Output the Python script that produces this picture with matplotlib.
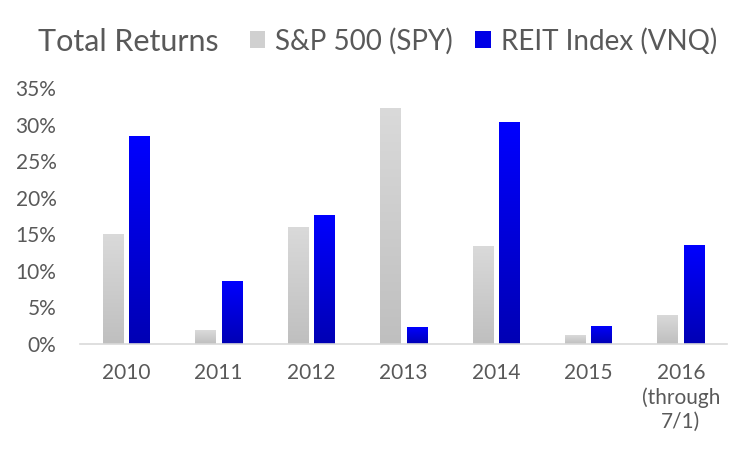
import numpy as np
import matplotlib.pyplot as plt
from matplotlib.colors import LinearSegmentedColormap
from matplotlib.patches import Patch
from matplotlib.ticker import FuncFormatter

years = ["2010", "2011", "2012", "2013", "2014", "2015", "2016\n(through\n7/1)"]
spy = [15.1, 1.9, 16.0, 32.3, 13.4, 1.2, 4.0]
vnq = [28.4, 8.6, 17.6, 2.3, 30.4, 2.5, 13.5]
series_names = ["S&P 500 (SPY)", "REIT Index (VNQ)"]

TEXT = "#595959"
plt.rcParams["font.family"] = ["Lato", "DejaVu Sans"]

gray_cmap = LinearSegmentedColormap.from_list("g", ["#bfbfbf", "#dadada"])
blue_cmap = LinearSegmentedColormap.from_list("b", ["#0000b4", "#0000ff"])
grad = np.linspace(0, 1, 256).reshape(-1, 1)

fig = plt.figure(figsize=(7.52, 4.51), dpi=100)
ax = fig.add_axes([80 / 752, 1 - 344 / 451, 647 / 752, 256 / 451])

x = np.arange(len(years))
width = 0.22
offset = 0.143


def gradient_bars(xs, vals, cmap):
    bars = ax.bar(xs, vals, width, color="none", edgecolor="none")
    for b in bars:
        x0, h, w = b.get_x(), b.get_height(), b.get_width()
        im = ax.imshow(grad, cmap=cmap, origin="lower", aspect="auto",
                       extent=(x0, x0 + w, 0, h), zorder=2)
        im.set_clip_path(b)


gradient_bars(x - offset, spy, gray_cmap)
gradient_bars(x + offset, vnq, blue_cmap)

ax.set_xlim(-0.5, len(years) - 0.5)
ax.set_ylim(0, 35)
ax.set_yticks(np.arange(0, 36, 5))
ax.yaxis.set_major_formatter(FuncFormatter(lambda v, _: f"{v:.0f}%"))
ax.set_xticks(x)
ax.set_xticklabels(years, linespacing=1.25)
ax.tick_params(axis="both", length=0, colors=TEXT, labelsize=15)
ax.tick_params(axis="x", pad=14)
ax.tick_params(axis="y", pad=17)
for s in ["top", "right", "left"]:
    ax.spines[s].set_visible(False)
ax.spines["bottom"].set_color("#d9d9d9")
ax.spines["bottom"].set_linewidth(1.2)

fig.text(38 / 752, 1 - 42 / 451, "Total Returns", fontsize=22, color=TEXT,
         va="center", ha="left")
handles = [Patch(facecolor="#d0d0d0"), Patch(facecolor="#0000e6")]
fig.legend(handles, series_names, loc="center left",
           bbox_to_anchor=(250 / 752, 1 - 41 / 451), ncol=2, frameon=False,
           fontsize=20, labelcolor=TEXT, handlelength=0.55, handleheight=0.55,
           handletextpad=0.36, columnspacing=0.8, borderaxespad=0, borderpad=0)

fig.savefig("out.png", dpi=100)
